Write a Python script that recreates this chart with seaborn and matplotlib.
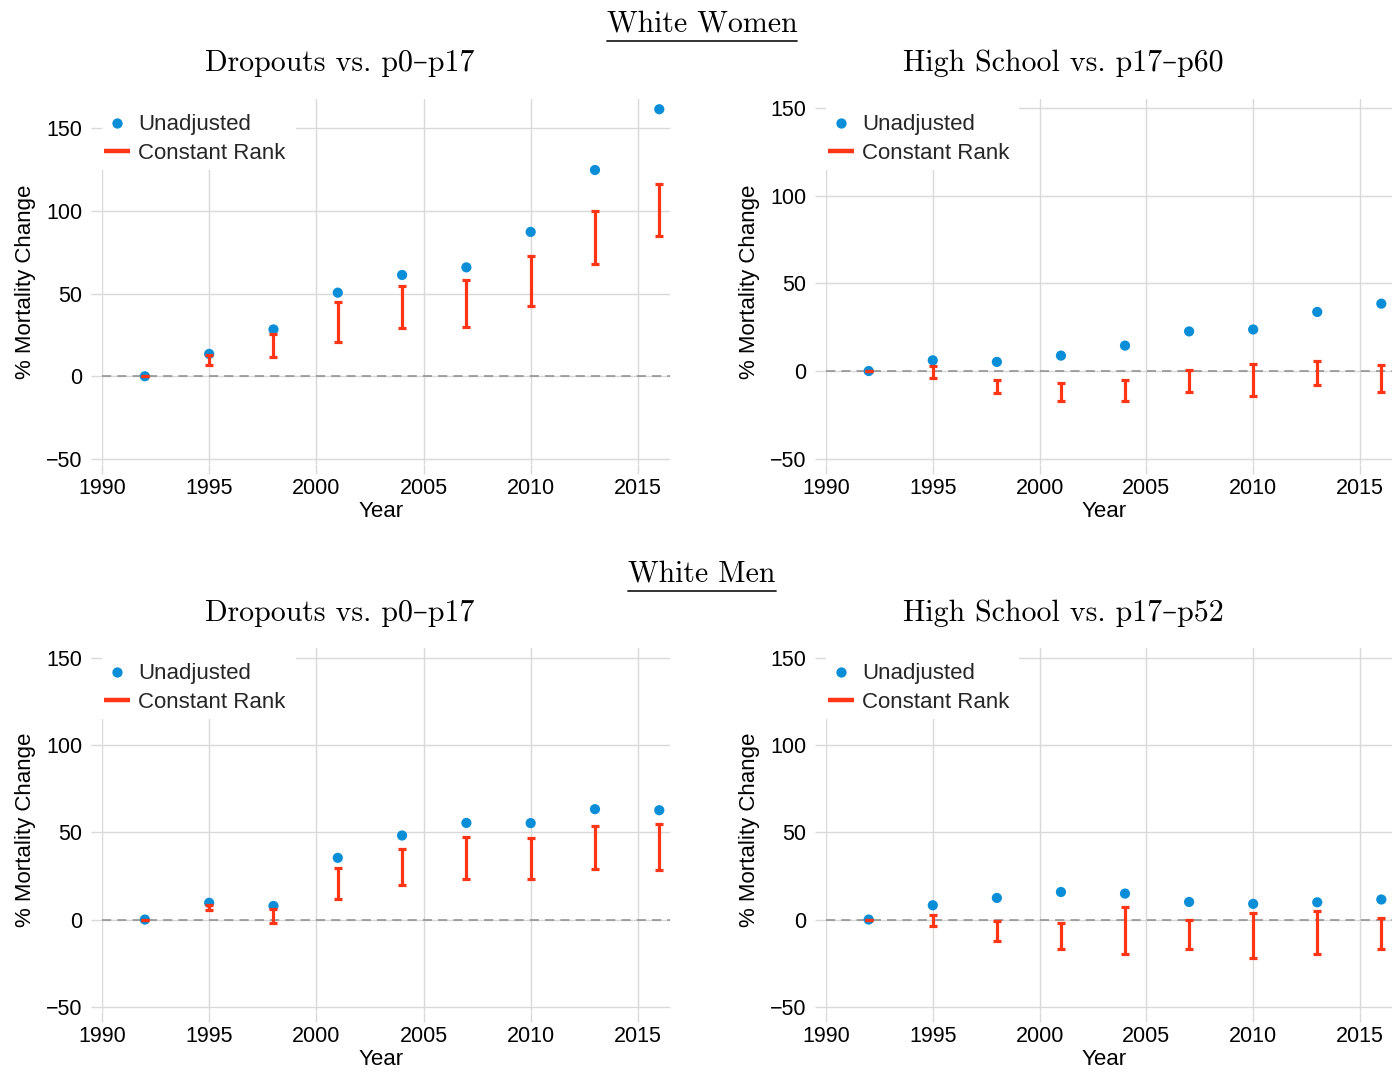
import numpy as np
import pandas as pd
import matplotlib
matplotlib.use("Agg")
import matplotlib.pyplot as plt
from matplotlib.lines import Line2D
from matplotlib.patches import Rectangle
import seaborn as sns

# ---- data -------------------------------------------------------------
years = [1992, 1995, 1998, 2001, 2004, 2007, 2010, 2013, 2016]

# White women, dropouts vs. p0-p17
ww_drop_unadj = [0, 13.5, 28.3, 50.5, 61.2, 65.8, 87.2, 124.6, 161.3]
ww_drop_hi = [0, 12.7, 25.6, 45.0, 54.3, 58.1, 72.7, 99.7, 116.3]
ww_drop_lo = [0, 6.7, 11.9, 20.8, 28.9, 29.7, 42.6, 67.8, 84.6]

# White women, high school vs. p17-p60
ww_hs_unadj = [0, 6.1, 5.2, 8.8, 14.5, 22.6, 23.7, 33.7, 38.4]
ww_hs_hi = [0, 3.1, -5.2, -7.1, -5.2, 0.4, 3.8, 5.7, 3.3]
ww_hs_lo = [0, -4.2, -12.6, -16.8, -17.2, -12.0, -14.1, -8.2, -11.9]

# White men, dropouts vs. p0-p17
wm_drop_unadj = [0, 9.6, 7.8, 35.4, 48.2, 55.4, 55.3, 63.3, 62.7]
wm_drop_hi = [0, 8.6, 6.1, 29.8, 40.5, 47.4, 46.7, 53.7, 54.7]
wm_drop_lo = [0, 5.2, -1.9, 12.0, 20.1, 23.5, 23.1, 28.9, 28.7]

# White men, high school vs. p17-p52
wm_hs_unadj = [0, 8.2, 12.4, 15.8, 14.9, 10.1, 9.0, 9.9, 11.5]
wm_hs_hi = [0, 2.9, -1.1, -1.7, 7.3, 0.0, 3.8, 5.0, 0.8]
wm_hs_lo = [0, -3.8, -12.4, -16.6, -20.0, -17.0, -22.3, -19.5, -17.0]

x_ticks = [1990, 1995, 2000, 2005, 2010, 2015]
y_ticks = [-50, 0, 50, 100, 150]

group_titles = ["White Women", "White Men"]
panel_titles = [["Dropouts vs. p0\u2013p17", "High School vs. p17\u2013p60"],
                ["Dropouts vs. p0\u2013p17", "High School vs. p17\u2013p52"]]

# ---- style ------------------------------------------------------------
sns.set_theme(style="whitegrid")
plt.rcParams["font.family"] = ["Liberation Sans", "DejaVu Sans"]

BLUE = "#0a8ed8"
RED = "#ff3516"
GRID = "#d9d9d9"
SERIF = ["cmr10", "DejaVu Serif"]

W, H = 1392, 1072
fig = plt.figure(figsize=(W / 100, H / 100), dpi=100)


def px_axes(left, top, right, bottom):
    return fig.add_axes([left / W, 1 - bottom / H, (right - left) / W, (bottom - top) / H])


panels = [
    (px_axes(102, 99, 670, 464), (-53, 167.5), ww_drop_unadj, ww_drop_lo, ww_drop_hi),
    (px_axes(826, 99, 1392, 464), (-53, 155.1), ww_hs_unadj, ww_hs_lo, ww_hs_hi),
    (px_axes(102, 648, 670, 1012), (-53, 155.7), wm_drop_unadj, wm_drop_lo, wm_drop_hi),
    (px_axes(826, 648, 1392, 1012), (-53, 155.7), wm_hs_unadj, wm_hs_lo, wm_hs_hi),
]

for ax, ylim, unadj, lo, hi in panels:
    df = pd.DataFrame({"Year": years, "Unadjusted": unadj, "lo": lo, "hi": hi})
    ax.axhline(0, color="#8c8c8c", lw=1.1, ls=(0, (6, 4)), zorder=1)
    sns.scatterplot(data=df, x="Year", y="Unadjusted", ax=ax, color=BLUE,
                    s=54, edgecolor="none", zorder=3, legend=False)
    mid = (df["lo"] + df["hi"]) / 2
    half = (df["hi"] - df["lo"]) / 2
    ax.errorbar(df["Year"], mid, yerr=half, fmt="none", ecolor=RED,
                elinewidth=2.3, capsize=3, capthick=2.3, zorder=4)

    ax.set_xlim(1990, 2016.5)
    ax.set_ylim(*ylim)
    ax.set_xticks(x_ticks)
    ax.set_yticks(y_ticks)
    ax.grid(True, color=GRID, lw=1.0)
    for s in ax.spines.values():
        s.set_visible(False)
    ax.tick_params(axis="both", which="both", width=1, color=GRID,
                   labelsize=15.5, labelcolor="black")
    ax.tick_params(axis="x", bottom=True, length=7, pad=3)
    ax.tick_params(axis="y", left=True, length=8, pad=6)

    ax.set_xlabel("Year", fontsize=16, color="black")
    ax.set_ylabel("% Mortality Change", fontsize=16, color="black")
    ax.xaxis.set_label_coords(0.491, -0.101)
    ax.yaxis.set_label_coords(-0.116, 0.5)

    # white backing behind the legend, hiding the grid underneath
    ax.add_patch(Rectangle((0, 1 - 71 / 365), 194 / 568, 71 / 365,
                           transform=ax.transAxes, facecolor="white",
                           edgecolor="none", zorder=2.6, clip_on=False))

    handles = [
        Line2D([], [], ls="none", marker="o", ms=7.4, color=BLUE, mec="none"),
        Line2D([], [], color=RED, lw=3.2, solid_capstyle="butt"),
    ]
    ax.legend(handles, ["Unadjusted", "Constant Rank"], loc="upper left",
              bbox_to_anchor=(2 / 568, 1 - 15.5 / 365), borderaxespad=0,
              fontsize=16, frameon=False, handlelength=1.17,
              handletextpad=0.36, labelspacing=0.34, borderpad=0)

# ---- titles -----------------------------------------------------------
title_pos = [[(340, 63), (1063, 63)], [(340, 613), (1063, 613)]]
header_pos = [(702, 24), (702, 574)]

headers = []
for r in range(2):
    hx, hy = header_pos[r]
    headers.append(fig.text(hx / W, 1 - hy / H, group_titles[r], family=SERIF,
                            fontsize=21.5, ha="center", va="center", color="black"))
    for c in range(2):
        tx, ty = title_pos[r][c]
        fig.text(tx / W, 1 - ty / H, panel_titles[r][c], family=SERIF,
                 fontsize=21.5, ha="center", va="center", color="black")

fig.canvas.draw()
renderer = fig.canvas.get_renderer()
for t in headers:
    bb = t.get_window_extent(renderer).transformed(fig.transFigure.inverted())
    y_line = bb.y0 - 3 / H
    fig.add_artist(Line2D([bb.x0, bb.x1], [y_line, y_line], color="#222222",
                          lw=1.3, transform=fig.transFigure))

fig.savefig("out.png", dpi=100)
